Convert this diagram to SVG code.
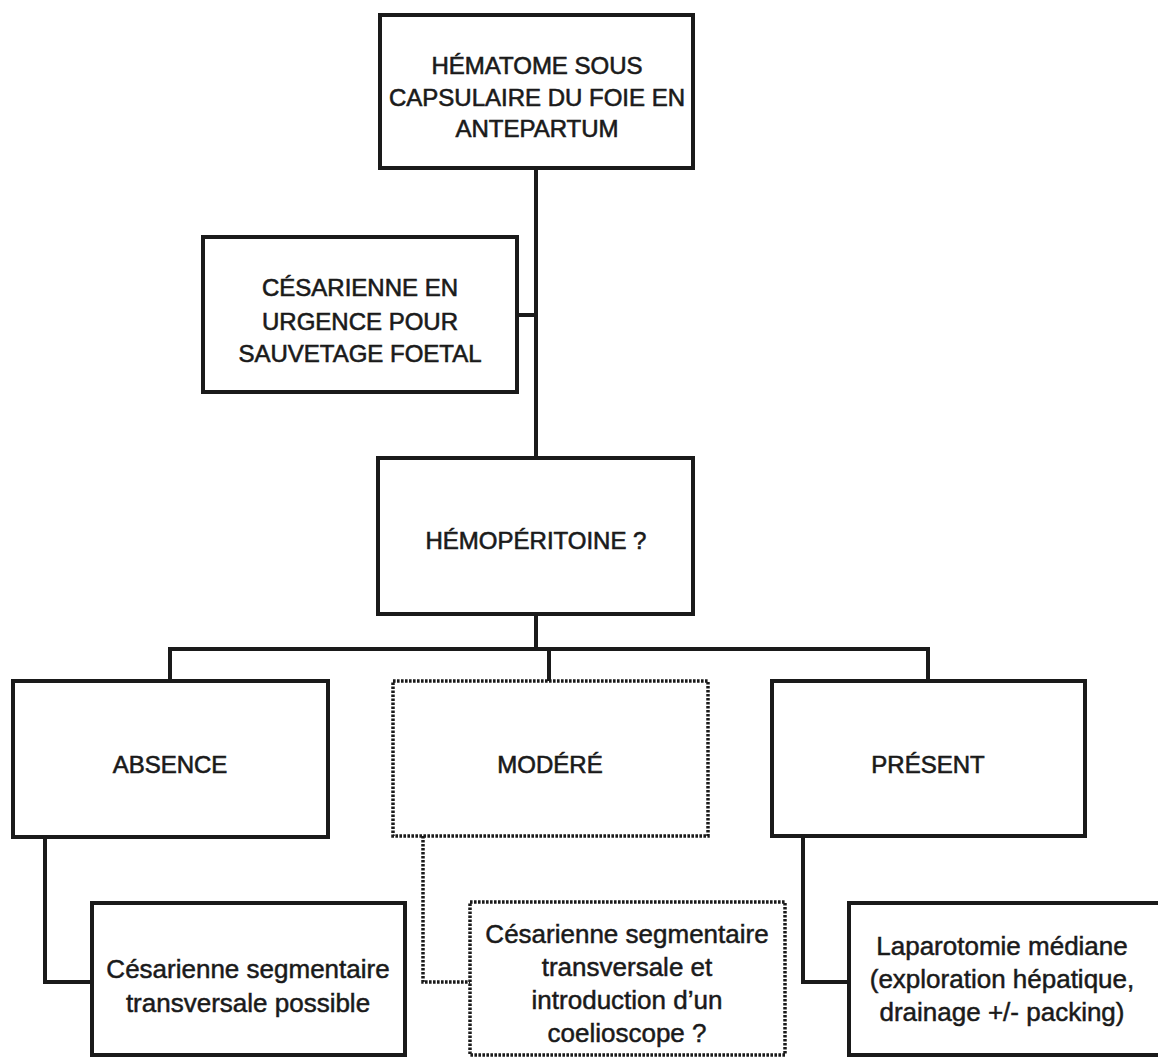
<svg xmlns="http://www.w3.org/2000/svg" width="1158" height="1057" viewBox="0 0 1158 1057">
<style>
.box{fill:#ffffff;stroke:#1a1a1a;stroke-width:4}
.dot{fill:#ffffff;stroke:#1a1a1a;stroke-width:3.5;stroke-dasharray:2.6 1.4}
.ln{fill:none;stroke:#1a1a1a;stroke-width:4}
.dln{fill:none;stroke:#1a1a1a;stroke-width:3.5;stroke-dasharray:2.6 1.4}
.cap{font-family:"Liberation Sans",Arial,sans-serif;font-size:24px;fill:#1a1a1a;stroke:#1a1a1a;stroke-width:0.6;text-anchor:middle}
.low{font-family:"Liberation Sans",Arial,sans-serif;font-size:26px;fill:#1a1a1a;stroke:#1a1a1a;stroke-width:0.5;text-anchor:middle}
</style>
<rect width="1158" height="1057" fill="#ffffff"/>
<g id="connectors">
<path class="ln" d="M536 168 V458"/>
<path class="ln" d="M517 315 H536"/>
<path class="ln" d="M536 614 V649"/>
<path class="ln" d="M170 681 V649 H928 V681"/>
<path class="ln" d="M549 649 V681"/>
<path class="ln" d="M45 837 V982 H92"/>
<path class="dln" d="M423 836 V982 H470"/>
<path class="ln" d="M803 836 V982 H849"/>
</g>
<g id="n-hematome">
<rect class="box" x="380" y="15" width="313" height="153"/>
<text class="cap" x="537" y="74">HÉMATOME SOUS</text>
<text class="cap" x="537" y="106">CAPSULAIRE DU FOIE EN</text>
<text class="cap" x="537" y="137">ANTEPARTUM</text>
</g>
<g id="n-cesarienne-urgence">
<rect class="box" x="203" y="237" width="314" height="155"/>
<text class="cap" x="360" y="296">CÉSARIENNE EN</text>
<text class="cap" x="360" y="330">URGENCE POUR</text>
<text class="cap" x="360" y="362">SAUVETAGE FOETAL</text>
</g>
<g id="n-hemoperitoine">
<rect class="box" x="378" y="458" width="315" height="156"/>
<text class="cap" x="536" y="549">HÉMOPÉRITOINE ?</text>
</g>
<g id="n-absence">
<rect class="box" x="13" y="681" width="315" height="156"/>
<text class="cap" x="170" y="773">ABSENCE</text>
</g>
<g id="n-modere">
<rect class="dot" x="393" y="681" width="315" height="155"/>
<text class="cap" x="550" y="773">MODÉRÉ</text>
</g>
<g id="n-present">
<rect class="box" x="772" y="681" width="313" height="155"/>
<text class="cap" x="928" y="773">PRÉSENT</text>
</g>
<g id="n-cesarienne-possible">
<rect class="box" x="92" y="903" width="313" height="152"/>
<text class="low" x="248" y="978">Césarienne segmentaire</text>
<text class="low" x="248" y="1012">transversale possible</text>
</g>
<g id="n-cesarienne-coelioscope">
<rect class="dot" x="470" y="902" width="315" height="153"/>
<text class="low" x="627" y="943">Césarienne segmentaire</text>
<text class="low" x="627" y="976">transversale et</text>
<text class="low" x="627" y="1009">introduction d’un</text>
<text class="low" x="627" y="1042">coelioscope ?</text>
</g>
<g id="n-laparotomie">
<rect class="box" x="849" y="903" width="315" height="152"/>
<text class="low" x="1002" y="955">Laparotomie médiane</text>
<text class="low" x="1002" y="988">(exploration hépatique,</text>
<text class="low" x="1002" y="1021">drainage +/- packing)</text>
</g>
</svg>
